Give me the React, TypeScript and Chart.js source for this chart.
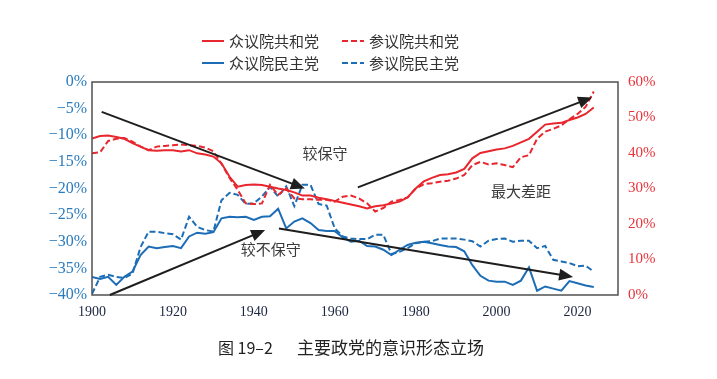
import React, { useEffect, useRef } from 'react';
import { Chart, registerables } from 'chart.js';

Chart.register(...registerables);

const years = [
  1900, 1902, 1904, 1906, 1908, 1910, 1912, 1914, 1916, 1918,
  1920, 1922, 1924, 1926, 1928, 1930, 1932, 1934, 1936, 1938,
  1940, 1942, 1944, 1946, 1948, 1950, 1952, 1954, 1956, 1958,
  1960, 1962, 1964, 1966, 1968, 1970, 1972, 1974, 1976, 1978,
  1980, 1982, 1984, 1986, 1988, 1990, 1992, 1994, 1996, 1998,
  2000, 2002, 2004, 2006, 2008, 2010, 2012, 2014, 2016, 2018,
  2020, 2022, 2024,
];

// 众议院共和党 (right axis, %)
const houseRep = [
  44.1, 44.8, 44.9, 44.5, 44.0, 42.8, 41.8, 40.8, 40.6, 40.8,
  40.8, 40.4, 40.8, 39.9, 39.6, 39.0, 37.1, 33.3, 30.5, 31.0,
  31.1, 31.0, 30.5, 30.0, 29.6, 28.9, 28.0, 28.0, 27.4, 27.0,
  26.5, 26.0, 25.5, 25.0, 24.4, 25.0, 25.3, 25.8, 26.3, 27.5,
  30.0, 32.0, 33.0, 33.8, 34.0, 34.5, 35.5, 38.5, 40.0, 40.5,
  41.0, 41.3, 42.0, 43.0, 44.0, 46.0, 48.0, 48.3, 48.5, 49.3,
  50.0, 51.0, 52.8,
];

// 参议院共和党 (right axis, %)
const senateRep = [
  39.9, 40.2, 43.4, 44.0, 44.2, 43.2, 41.8, 40.8, 41.8, 42.0,
  42.2, 42.4, 42.2, 42.0, 41.5, 40.5, 37.0, 33.0, 29.6, 25.8,
  25.6, 25.8, 31.0, 28.2, 30.0, 27.2, 27.0, 27.0, 26.8, 26.8,
  26.3, 27.7, 28.0, 27.2, 25.8, 23.5, 24.5, 26.3, 26.8, 27.5,
  30.0, 31.2, 31.5, 31.9, 32.2, 32.8, 33.8, 36.6, 37.5, 36.8,
  37.1, 36.6, 36.0, 38.8, 39.4, 44.0, 46.0, 46.8, 47.8, 49.5,
  51.0, 53.0, 57.3,
];

// 众议院民主党 (left axis, %)
const houseDem = [
  -36.6, -37.0, -36.6, -38.1, -36.6, -35.6, -32.5, -30.9, -31.2, -31.0,
  -30.8, -31.2, -29.0, -28.3, -28.5, -28.2, -25.6, -25.3, -25.4, -25.3,
  -25.9, -25.3, -25.2, -23.8, -27.5, -26.2, -25.6, -26.5, -27.8, -28.0,
  -28.0, -29.2, -30.0, -29.8, -30.8, -30.9, -31.5, -32.5, -31.5, -30.6,
  -30.2, -30.0, -30.3, -30.6, -30.9, -31.0, -31.8, -34.4, -36.4, -37.3,
  -37.5, -37.5, -38.1, -37.3, -34.8, -39.2, -38.4, -38.8, -39.2, -37.4,
  -37.8, -38.2, -38.5,
];

// 参议院民主党 (left axis, %)
const senateDem = [
  -39.8, -36.6, -36.2, -36.6, -36.8, -36.0, -31.0, -28.1, -28.1, -28.4,
  -28.6, -29.6, -25.3, -27.2, -27.8, -28.1, -22.2, -20.8, -21.2, -22.9,
  -22.8, -21.5, -19.7, -21.5, -19.6, -23.3, -19.3, -19.3, -22.9, -23.2,
  -27.5, -29.0, -29.4, -29.5, -29.5, -28.7, -28.7, -32.3, -31.9, -31.2,
  -30.3, -30.0, -29.9, -29.4, -29.4, -29.4, -29.6, -29.9, -30.9, -29.8,
  -29.5, -29.4, -30.0, -29.8, -29.8, -31.2, -30.8, -33.4, -33.7, -34.0,
  -34.6, -34.5, -35.6,
];

const xTicks = [1900, 1920, 1940, 1960, 1980, 2000, 2020];
const leftTicks = [0, -5, -10, -15, -20, -25, -30, -35, -40];
const rightTicks = [0, 10, 20, 30, 40, 50, 60];

const seriesNames = ['众议院共和党', '参议院共和党', '众议院民主党', '参议院民主党'];

// annotations, in data units (year, left-axis %)
const noteTexts = ['较保守', '较不保守', '最大差距'];
const noteYears = [1957.6, 1944.2, 2006.0];
const noteValues = [-13.3, -31.4, -20.5];
const arrowFromYears = [1902.4, 1904.4, 1946.2, 1965.7];
const arrowFromValues = [-5.6, -40.0, -27.5, -19.8];
const arrowToYears = [1952.6, 1942.8, 2018.9, 2023.6];
const arrowToValues = [-20.0, -27.8, -36.6, -2.9];

const captionLabel = '图 19–2';
const captionTitle = '主要政党的意识形态立场';

const RED = '#e8262d';
const BLUE = '#1c6db5';
const SERIF = '"Liberation Serif", "Times New Roman", serif';
const CJK = '"Noto Sans CJK SC", "Noto Sans", sans-serif';

const overlay = {
  id: 'overlay',
  afterDraw(chart: any) {
    const { ctx, chartArea: a, scales } = chart;
    const xs = scales.x;
    const ys = scales.y;
    ctx.save();

    // plot frame
    ctx.strokeStyle = '#505050';
    ctx.lineWidth = 1.5;
    ctx.setLineDash([]);
    ctx.strokeRect(a.left, a.top, a.right - a.left, a.bottom - a.top);

    // arrows
    ctx.strokeStyle = '#1e1e1e';
    ctx.fillStyle = '#1e1e1e';
    ctx.lineWidth = 2;
    for (let i = 0; i < arrowFromYears.length; i++) {
      const x0 = xs.getPixelForValue(arrowFromYears[i]);
      const y0 = ys.getPixelForValue(arrowFromValues[i]);
      const x1 = xs.getPixelForValue(arrowToYears[i]);
      const y1 = ys.getPixelForValue(arrowToValues[i]);
      const ang = Math.atan2(y1 - y0, x1 - x0);
      const L = 14;
      const W = 6;
      const c = Math.cos(ang);
      const s = Math.sin(ang);
      const bx = x1 - L * c;
      const by = y1 - L * s;
      ctx.beginPath();
      ctx.moveTo(x0, y0);
      ctx.lineTo(bx + c, by + s);
      ctx.stroke();
      ctx.beginPath();
      ctx.moveTo(x1, y1);
      ctx.lineTo(bx + W * s, by - W * c);
      ctx.lineTo(bx - W * s, by + W * c);
      ctx.closePath();
      ctx.fill();
    }

    // annotation text
    ctx.font = `15px ${CJK}`;
    ctx.fillStyle = '#3a3a3a';
    ctx.textAlign = 'center';
    ctx.textBaseline = 'middle';
    for (let i = 0; i < noteTexts.length; i++) {
      ctx.fillText(noteTexts[i], xs.getPixelForValue(noteYears[i]), ys.getPixelForValue(noteValues[i]));
    }

    // legend
    const ds = chart.data.datasets;
    ctx.textAlign = 'left';
    ctx.font = `15px ${CJK}`;
    for (let i = 0; i < ds.length; i++) {
      const col = i % 2;
      const row = Math.floor(i / 2);
      const lx = a.left + (col === 0 ? 110 : 250);
      const ly = a.top - 41 + row * 22;
      ctx.strokeStyle = ds[i].borderColor;
      ctx.lineWidth = 2;
      ctx.setLineDash(ds[i].borderDash || []);
      ctx.beginPath();
      ctx.moveTo(lx, ly);
      ctx.lineTo(lx + 22, ly);
      ctx.stroke();
      ctx.setLineDash([]);
      ctx.fillStyle = '#333333';
      ctx.fillText(ds[i].label, lx + 27, ly);
    }

    // caption
    ctx.fillStyle = '#222222';
    ctx.font = `16px ${CJK}`;
    const cy = chart.height - 23;
    ctx.fillText(captionLabel, a.left + 126, cy);
    ctx.font = `17px ${CJK}`;
    ctx.fillText(captionTitle, a.left + 205, cy);

    ctx.restore();
  },
};

export default function App() {
  const ref = useRef<HTMLCanvasElement>(null);

  useEffect(() => {
    const pts = (vals: number[]) => years.map((yr, i) => ({ x: yr, y: vals[i] }));
    const chart = new Chart(ref.current as HTMLCanvasElement, {
      type: 'line',
      data: {
        datasets: [
          { label: seriesNames[0], data: pts(houseRep), borderColor: RED, borderWidth: 2, yAxisID: 'y1' },
          { label: seriesNames[1], data: pts(senateRep), borderColor: RED, borderWidth: 2, borderDash: [6, 3], yAxisID: 'y1' },
          { label: seriesNames[2], data: pts(houseDem), borderColor: BLUE, borderWidth: 2, yAxisID: 'y' },
          { label: seriesNames[3], data: pts(senateDem), borderColor: BLUE, borderWidth: 2, borderDash: [6, 3], yAxisID: 'y' },
        ],
      },
      options: {
        animation: false,
        responsive: true,
        maintainAspectRatio: false,
        layout: { padding: { top: 74, left: 0, right: 0, bottom: 0 } },
        elements: { point: { radius: 0 }, line: { tension: 0 } },
        plugins: { legend: { display: false }, tooltip: { enabled: false } },
        scales: {
          x: {
            type: 'linear',
            min: 1900,
            max: 2030,
            grid: { display: false, drawTicks: false },
            border: { display: false },
            afterBuildTicks: (s: any) => { s.ticks = xTicks.map((v) => ({ value: v })); },
            afterFit: (s: any) => { s.height = 76; },
            ticks: {
              padding: 9,
              autoSkip: false,
              maxRotation: 0,
              color: '#1c2540',
              font: { family: SERIF, size: 14 },
              callback: (v: any) => String(v),
            },
          },
          y: {
            type: 'linear',
            position: 'left',
            min: -40,
            max: 0,
            grid: { display: false, drawTicks: false },
            border: { display: false },
            afterBuildTicks: (s: any) => { s.ticks = leftTicks.map((v) => ({ value: v })); },
            afterFit: (s: any) => { s.width = 84; },
            ticks: {
              padding: 5,
              color: '#2a7bbd',
              font: { family: SERIF, size: 16 },
              callback: (v: any) => (v === 0 ? '0%' : '\u2212' + Math.abs(v) + '%'),
            },
          },
          y1: {
            type: 'linear',
            position: 'right',
            min: 0,
            max: 60,
            grid: { display: false, drawTicks: false },
            border: { display: false },
            afterBuildTicks: (s: any) => { s.ticks = rightTicks.map((v) => ({ value: v })); },
            afterFit: (s: any) => { s.width = 91; },
            ticks: {
              padding: 10,
              color: '#e8323a',
              font: { family: SERIF, size: 15 },
              callback: (v: any) => v + '%',
            },
          },
        },
      },
      plugins: [overlay],
    } as any);
    return () => chart.destroy();
  }, []);

  return (
    <div style={{ width: 701, height: 363, position: 'relative' }}>
      <canvas ref={ref} />
    </div>
  );
}
